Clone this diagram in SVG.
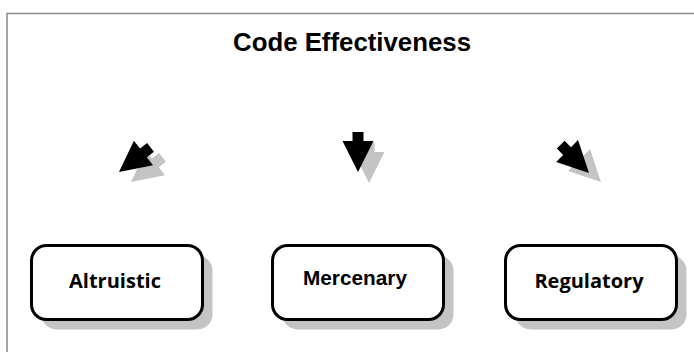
<svg xmlns="http://www.w3.org/2000/svg" width="694" height="352" viewBox="0 0 694 352">
  <style>
    .frame { fill: none; stroke: #8a8a8a; stroke-width: 1.5; }
    .title { font-family: "Liberation Sans", Arial, sans-serif; font-weight: bold; font-size: 25.8px; fill: #000; }
    .label { font-family: "Open Sans", "Liberation Sans", sans-serif; font-weight: bold; font-size: 20px; fill: #000; }
    .label-arial { font-family: "Liberation Sans", Arial, sans-serif; font-weight: bold; font-size: 20.8px; fill: #000; }
    .box { fill: #fff; stroke: #000; stroke-width: 3; }
    .box-shadow { fill: #c4c4c4; }
    .arrow { fill: #000; }
    .arrow-shadow { fill: #c4c4c4; }
  </style>
  <defs>
    <!-- block arrow, tip at origin, pointing along +y -->
    <path id="blockArrow" d="M-5.5,-40 H5.5 V-31 H15.5 L0,0 L-15.5,-31 H-5.5 Z"/>
    <rect id="nodeShape" width="171" height="74" rx="15" ry="15"/>
  </defs>

  <rect x="0" y="0" width="694" height="352" fill="#fff"/>
  <path class="frame" d="M7,352 V13.5 H694"/>

  <text class="title" x="352" y="51" text-anchor="middle">Code Effectiveness</text>

  <g id="connectors">
    <!-- towards Altruistic -->
    <use href="#blockArrow" class="arrow-shadow" transform="translate(131,182) rotate(52)"/>
    <use href="#blockArrow" class="arrow" transform="translate(119,172) rotate(52)"/>
    <!-- towards Mercenary -->
    <use href="#blockArrow" class="arrow-shadow" transform="translate(369,183) rotate(0)"/>
    <use href="#blockArrow" class="arrow" transform="translate(358,172) rotate(0)"/>
    <!-- towards Regulatory -->
    <use href="#blockArrow" class="arrow-shadow" transform="translate(601,182) rotate(-45)"/>
    <use href="#blockArrow" class="arrow" transform="translate(589,173) rotate(-45)"/>
  </g>

  <g id="altruistic">
    <use href="#nodeShape" class="box-shadow" x="41.5" y="255.5"/>
    <use href="#nodeShape" class="box" x="31.5" y="245.5"/>
    <text class="label" x="115" y="288" text-anchor="middle">Altruistic</text>
  </g>

  <g id="mercenary">
    <use href="#nodeShape" class="box-shadow" x="282.5" y="255.5"/>
    <use href="#nodeShape" class="box" x="272.5" y="245.5"/>
    <text class="label-arial" x="355" y="285" text-anchor="middle">Mercenary</text>
  </g>

  <g id="regulatory">
    <use href="#nodeShape" class="box-shadow" x="515.5" y="255.5"/>
    <use href="#nodeShape" class="box" x="505.5" y="245.5"/>
    <text class="label" x="589" y="288" text-anchor="middle">Regulatory</text>
  </g>
</svg>
